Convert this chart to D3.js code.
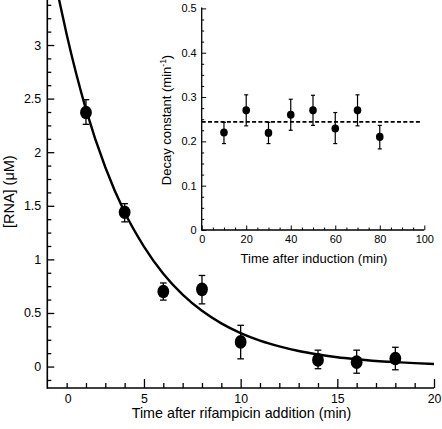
<!DOCTYPE html>
<html>
<head>
<meta charset="utf-8">
<script src="https://cdn.jsdelivr.net/npm/d3@7"></script>
<style>
  html, body { margin: 0; padding: 0; background: #fff; }
  svg { display: block; font-family: "Liberation Sans", Arial, sans-serif; }
</style>
</head>
<body>
<svg id="chart" width="442" height="429"></svg>
<script>
// ---------------- Main panel data ----------------
const mainTimes   = [2, 4, 6, 8, 10, 14, 16, 18];
const mainRNA     = [2.37, 1.44, 0.70, 0.72, 0.23, 0.062, 0.041, 0.075];
const mainErrHi   = [2.49, 1.52, 0.78, 0.85, 0.385, 0.153, 0.153, 0.18];
const mainErrLo   = [2.26, 1.35, 0.62, 0.585, 0.072, -0.02, -0.062, -0.03];
// fitted decay curve
const fitTimes    = [0.6, 1, 2, 3, 4, 5, 6, 7, 8, 9, 10, 11, 12, 13, 14, 15, 16, 17, 18, 19, 20];
const fitRNA      = [3.43, 3.10, 2.40, 1.86, 1.44, 1.12, 0.866, 0.671, 0.520, 0.403, 0.312, 0.242, 0.188, 0.145, 0.113, 0.087, 0.068, 0.052, 0.041, 0.032, 0.024];
const mainXMajor  = [5, 10, 15, 20];
const mainXLabelPos = [1.05, 5, 10, 15, 20];
const mainXLabels = ["0", "5", "10", "15", "20"];
const mainYMajor  = [0, 0.5, 1, 1.5, 2, 2.5, 3];
const mainYLabels = ["0", "0.5", "1", "1.5", "2", "2.5", "3"];

// ---------------- Inset data ----------------
const insetTimes  = [10, 20, 30, 40, 50, 60, 70, 80];
const insetK      = [0.220, 0.270, 0.219, 0.260, 0.270, 0.229, 0.270, 0.210];
const insetErrHi  = [0.243, 0.305, 0.243, 0.295, 0.304, 0.265, 0.305, 0.236];
const insetErrLo  = [0.195, 0.235, 0.195, 0.225, 0.236, 0.195, 0.235, 0.183];
const insetMeanK  = 0.244;
const insetXTicks = [0, 20, 40, 60, 80, 100];
const insetYTicks = [0, 0.1, 0.2, 0.3, 0.4, 0.5];
const insetYLabels = ["0", "0.1", "0.2", "0.3", "0.4", "0.5"];

const svg = d3.select("#chart");
svg.append("rect").attr("width", 442).attr("height", 429).attr("fill", "#fff");

// ---------------- Main scales ----------------
const x = d3.scaleLinear().domain([0, 20]).range([47.3, 434]);
const y = d3.scaleLinear().domain([-0.2, 3.42]).range([388, 0]);

svg.append("defs").append("clipPath").attr("id", "mainClip")
  .append("rect").attr("x", x(0)).attr("y", 0)
  .attr("width", x(20) - x(0) + 2).attr("height", 388);

// minor ticks X
const xMinor = d3.range(1, 20, 1).filter(v => v % 5 !== 0);
const gx = svg.append("g").attr("transform", "translate(0,388)");
gx.call(d3.axisBottom(x).tickValues(xMinor).tickSize(-5).tickFormat(""));
gx.call(g => g.select(".domain").remove());
const gx2 = svg.append("g").attr("transform", "translate(0,388)");
gx2.call(d3.axisBottom(x).tickValues(mainXMajor).tickSize(-9).tickFormat(""));
gx2.call(g => g.select(".domain").remove());
// x labels
const gxl = svg.append("g").attr("transform", "translate(0,388)");
gxl.call(d3.axisBottom(x).tickValues(mainXLabelPos).tickSize(0).tickPadding(6)
  .tickFormat((d, i) => mainXLabels[i]));
gxl.call(g => g.select(".domain").remove());
gxl.selectAll("text").attr("font-size", 12.3).attr("fill", "#000")
  .attr("font-family", "Liberation Sans, Arial, sans-serif");

// y axis
const yMinor = d3.range(-0.125, 3.42, 0.125).filter(v => Math.abs(v * 2 - Math.round(v * 2)) > 1e-6);
const gy = svg.append("g").attr("transform", `translate(${x(0)},0)`);
gy.call(d3.axisLeft(y).tickValues(yMinor).tickSize(-4).tickFormat(""));
gy.call(g => g.select(".domain").remove());
const gy2 = svg.append("g").attr("transform", `translate(${x(0)},0)`);
gy2.call(d3.axisLeft(y).tickValues(mainYMajor).tickSize(-7).tickPadding(6)
  .tickFormat((d, i) => mainYLabels[i]));
gy2.call(g => g.select(".domain").remove());
gy2.selectAll("text").attr("font-size", 12.5).attr("fill", "#000")
  .attr("font-family", "Liberation Sans, Arial, sans-serif");
svg.selectAll(".tick line").attr("stroke", "#000").attr("stroke-width", 1.3);

// axis lines
svg.append("line").attr("x1", x(0)).attr("x2", x(20)).attr("y1", 388).attr("y2", 388)
  .attr("stroke", "#000").attr("stroke-width", 1.6);
svg.append("line").attr("x1", x(0)).attr("x2", x(0)).attr("y1", 0).attr("y2", 388.8)
  .attr("stroke", "#000").attr("stroke-width", 1.6);

// titles
svg.append("text").attr("x", 241.5).attr("y", 418).attr("text-anchor", "middle")
  .attr("font-size", 14.3).text("Time after rifampicin addition (min)");
svg.append("text").attr("transform", "translate(13.5,191.7) rotate(-90)")
  .attr("text-anchor", "middle").attr("font-size", 14.5).text("[RNA] (μM)");

// fit curve
const fitData = fitTimes.map((t, i) => [t, fitRNA[i]]);
svg.append("path").datum(fitData)
  .attr("clip-path", "url(#mainClip)")
  .attr("d", d3.line().x(d => x(d[0])).y(d => y(d[1])).curve(d3.curveMonotoneX))
  .attr("fill", "none").attr("stroke", "#000").attr("stroke-width", 2.4);

// error bars
const mainPts = mainTimes.map((t, i) => ({ t, v: mainRNA[i], hi: mainErrHi[i], lo: mainErrLo[i] }));
const eb = svg.append("g").attr("stroke", "#000").attr("stroke-width", 1.3);
mainPts.forEach(p => {
  eb.append("line").attr("x1", x(p.t)).attr("x2", x(p.t)).attr("y1", y(p.hi)).attr("y2", y(p.lo));
  eb.append("line").attr("x1", x(p.t) - 3.3).attr("x2", x(p.t) + 3.3).attr("y1", y(p.hi)).attr("y2", y(p.hi));
  eb.append("line").attr("x1", x(p.t) - 3.3).attr("x2", x(p.t) + 3.3).attr("y1", y(p.lo)).attr("y2", y(p.lo));
});
svg.append("g").selectAll("ellipse").data(mainPts).join("ellipse")
  .attr("cx", d => x(d.t)).attr("cy", d => y(d.v)).attr("rx", 5.9).attr("ry", 6.8).attr("fill", "#000");

// ---------------- Inset ----------------
const xi = d3.scaleLinear().domain([0, 100]).range([201.7, 424.3]);
const yi = d3.scaleLinear().domain([0, 0.5]).range([230, 8.4]);
const inset = svg.append("g");

const xiMinor = d3.range(5, 100, 5).filter(v => v % 20 !== 0);
const gxi = inset.append("g").attr("transform", "translate(0,230)");
gxi.call(d3.axisBottom(xi).tickValues(xiMinor).tickSize(-2.5).tickFormat(""));
gxi.call(g => g.select(".domain").remove());
const gxi2 = inset.append("g").attr("transform", "translate(0,230)");
gxi2.call(d3.axisBottom(xi).tickValues(insetXTicks).tickSize(-4.5).tickPadding(4.8)
  .tickFormat(d => String(d)));
gxi2.call(g => g.select(".domain").remove());
gxi2.selectAll("text").attr("font-size", 11).attr("fill", "#000")
  .attr("font-family", "Liberation Sans, Arial, sans-serif");

const yiMinor = d3.range(0.025, 0.5, 0.025).filter(v => Math.abs(v * 10 - Math.round(v * 10)) > 1e-6);
const gyi = inset.append("g").attr("transform", `translate(${xi(0)},0)`);
gyi.call(d3.axisLeft(yi).tickValues(yiMinor).tickSize(-2.5).tickFormat(""));
gyi.call(g => g.select(".domain").remove());
const gyi2 = inset.append("g").attr("transform", `translate(${xi(0)},0)`);
gyi2.call(d3.axisLeft(yi).tickValues(insetYTicks).tickSize(-4.5).tickPadding(5)
  .tickFormat((d, i) => insetYLabels[i]));
gyi2.call(g => g.select(".domain").remove());
gyi2.selectAll("text").attr("font-size", 11).attr("fill", "#000")
  .attr("font-family", "Liberation Sans, Arial, sans-serif");
inset.selectAll(".tick line").attr("stroke", "#000").attr("stroke-width", 1);

inset.append("line").attr("x1", xi(0)).attr("x2", xi(100)).attr("y1", 230).attr("y2", 230)
  .attr("stroke", "#000").attr("stroke-width", 1.3);
inset.append("line").attr("x1", xi(0)).attr("x2", xi(0)).attr("y1", yi(0.5) - 1).attr("y2", 230.6)
  .attr("stroke", "#000").attr("stroke-width", 1.3);

// inset titles
inset.append("text").attr("x", 314).attr("y", 262.7).attr("text-anchor", "middle")
  .attr("font-size", 13).text("Time after induction (min)");
const yt = inset.append("text").attr("transform", "translate(170.5,120) rotate(-90)")
  .attr("text-anchor", "middle").attr("font-size", 13);
yt.append("tspan").text("Decay constant (min");
yt.append("tspan").attr("font-size", 8.5).attr("dy", -5).text("-1");
yt.append("tspan").attr("dy", 5).text(")");

// mean dashed line
inset.append("line").attr("x1", xi(0)).attr("x2", xi(99)).attr("y1", yi(insetMeanK)).attr("y2", yi(insetMeanK))
  .attr("stroke", "#000").attr("stroke-width", 1.8).attr("stroke-dasharray", "4,2.3");

const insetPts = insetTimes.map((t, i) => ({ t, v: insetK[i], hi: insetErrHi[i], lo: insetErrLo[i] }));
const ebi = inset.append("g").attr("stroke", "#000").attr("stroke-width", 1.2);
insetPts.forEach(p => {
  ebi.append("line").attr("x1", xi(p.t)).attr("x2", xi(p.t)).attr("y1", yi(p.hi)).attr("y2", yi(p.lo));
  ebi.append("line").attr("x1", xi(p.t) - 2).attr("x2", xi(p.t) + 2).attr("y1", yi(p.hi)).attr("y2", yi(p.hi));
  ebi.append("line").attr("x1", xi(p.t) - 2).attr("x2", xi(p.t) + 2).attr("y1", yi(p.lo)).attr("y2", yi(p.lo));
});
inset.append("g").selectAll("ellipse").data(insetPts).join("ellipse")
  .attr("cx", d => xi(d.t)).attr("cy", d => yi(d.v)).attr("rx", 3.8).attr("ry", 4.1).attr("fill", "#000");
</script>
</body>
</html>
